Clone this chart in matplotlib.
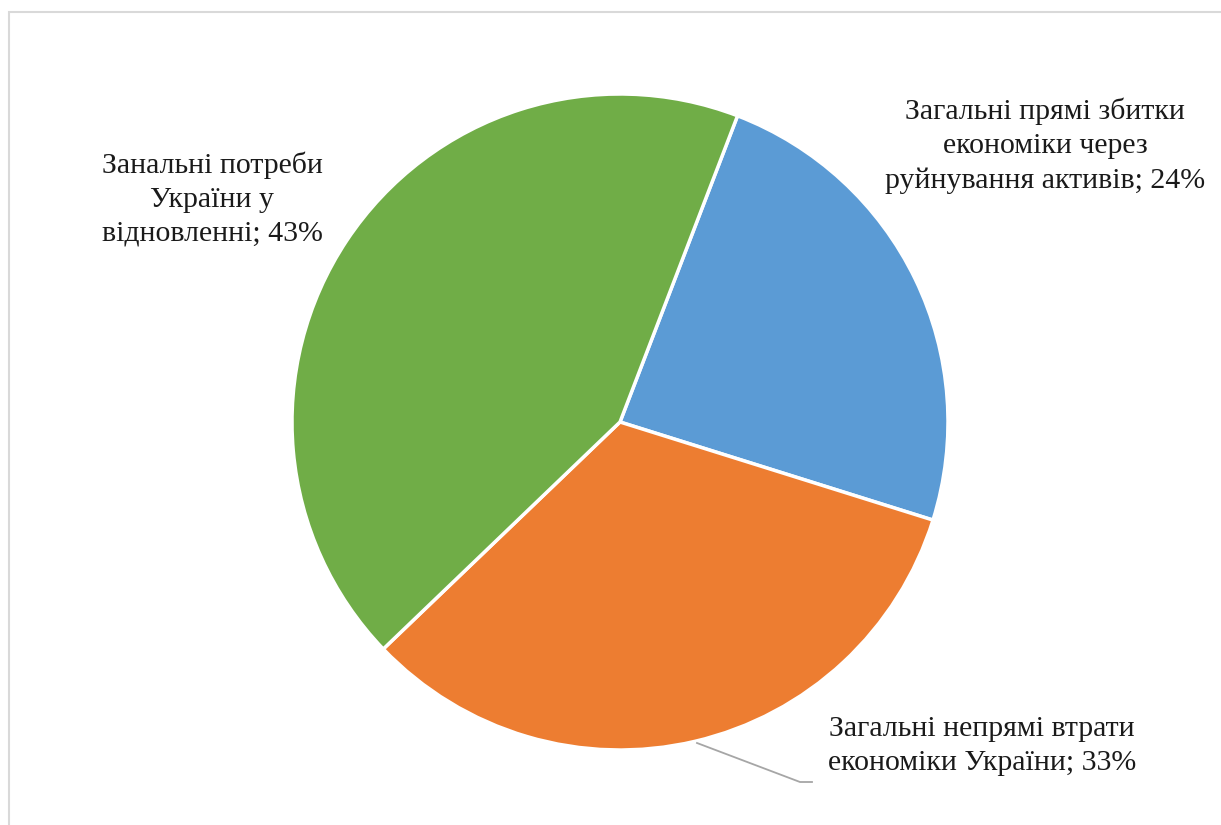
import matplotlib.pyplot as plt
from matplotlib.patches import Rectangle

labels = ['Загальні прямі збитки\nекономіки через\nруйнування активів',
          'Загальні непрямі втрати\nекономіки України',
          'Занальні потреби\nУкраїни у\nвідновленні']
values = [24, 33, 43]
colors = ['#5B9BD5', '#ED7D31', '#70AD47']

W, H = 1221, 825
plt.rcParams['font.family'] = ['Liberation Serif', 'DejaVu Serif']

fig = plt.figure(figsize=(W / 100, H / 100), dpi=100)
ax = fig.add_axes([0, 0, 1, 1])

# outer chart frame (runs off the right and bottom edge)
ax.add_patch(Rectangle((9, -20), W + 20, H - 12 + 20, fill=False,
                       edgecolor='#d9d9d9', linewidth=1.5))

cx, cy, r = 620, H - 422, 328
ax.pie(values, colors=colors, startangle=69, counterclock=False,
       center=(cx, cy), radius=r, frame=True,
       wedgeprops=dict(edgecolor='white', linewidth=2.5))
ax.set_xlim(0, W)
ax.set_ylim(0, H)
ax.set_aspect('equal')
ax.axis('off')

# labels
pos = [(1045, H - 146), (982, H - 746), (212, H - 199)]
for lab, v, (x, y) in zip(labels, values, pos):
    ax.text(x, y, f'{lab}; {v}%', ha='center', va='center',
            fontsize=21.5, linespacing=1.4, color='#1a1a1a')

# leader line for the orange slice
ax.plot([697, 800, 812], [H - 743, H - 782, H - 782],
        color='#a6a6a6', linewidth=1.3)

fig.savefig('out.png', dpi=100)
